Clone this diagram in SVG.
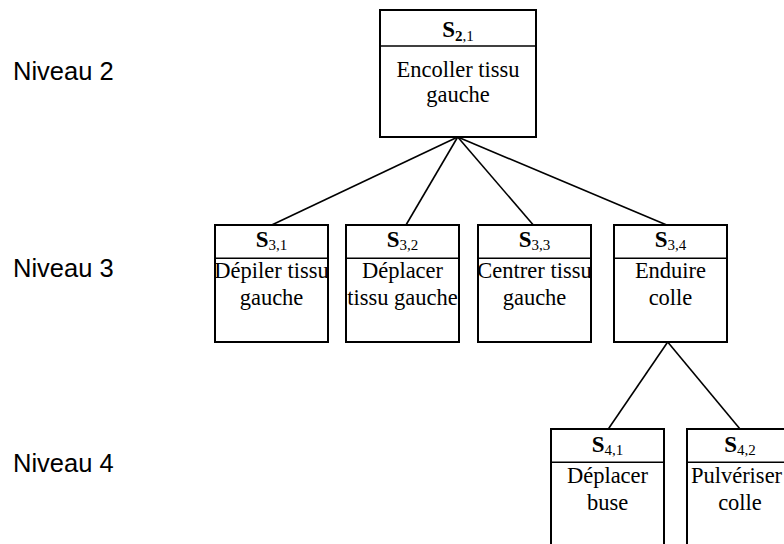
<svg xmlns="http://www.w3.org/2000/svg" width="784" height="544" viewBox="0 0 784 544">
<style>
.box{fill:#fff;stroke:#000;stroke-width:2}
.div{stroke:#000;stroke-width:1.5}
.lbl{font-family:"Liberation Serif","Times New Roman",serif;font-size:22.5px;fill:#000;text-anchor:middle}
.hdr{font-family:"Liberation Serif","Times New Roman",serif;font-size:23px;fill:#000;text-anchor:middle}
.hdr .s{font-weight:bold}
.sub{font-size:15px}
.lvl{font-family:"Liberation Sans",Arial,sans-serif;font-size:25.5px;fill:#000}
.con line{stroke:#000;stroke-width:1.6}
</style>
<rect width="784" height="544" fill="#fff"/>
<g id="levels">
<text class="lvl" x="13" y="80">Niveau 2</text>
<text class="lvl" x="13" y="277">Niveau 3</text>
<text class="lvl" x="13" y="472">Niveau 4</text>
</g>
<g id="connectors" class="con">
<line x1="457.7" y1="137" x2="271.7" y2="225"/>
<line x1="457.7" y1="137" x2="406" y2="225"/>
<line x1="457.7" y1="137" x2="533.3" y2="225"/>
<line x1="457.7" y1="137" x2="666.7" y2="225"/>
<line x1="667.7" y1="342" x2="608.3" y2="429"/>
<line x1="667.7" y1="342" x2="740" y2="429"/>
</g>
<g id="S21">
<rect class="box" x="380" y="10" width="156" height="127"/>
<line class="div" x1="380" y1="46" x2="536" y2="46"/>
<text class="hdr" x="458" y="37"><tspan class="s">S</tspan><tspan class="sub s" dy="4">2</tspan><tspan class="sub">,1</tspan></text>
<text class="lbl" x="458" y="77">Encoller tissu</text>
<text class="lbl" x="458" y="102">gauche</text>
</g>
<g id="S31">
<rect class="box" x="215" y="225" width="113" height="117"/>
<line class="div" x1="215" y1="258.3" x2="328" y2="258.3"/>
<text class="hdr" x="271.5" y="247"><tspan class="s">S</tspan><tspan class="sub" dy="3">3,1</tspan></text>
<text class="lbl" x="271.5" y="278">Dépiler tissu</text>
<text class="lbl" x="271.5" y="305">gauche</text>
</g>
<g id="S32">
<rect class="box" x="346" y="225" width="113" height="117"/>
<line class="div" x1="346" y1="258.3" x2="459" y2="258.3"/>
<text class="hdr" x="402.5" y="247"><tspan class="s">S</tspan><tspan class="sub" dy="3">3,2</tspan></text>
<text class="lbl" x="402.5" y="278">Déplacer</text>
<text class="lbl" x="402.5" y="305">tissu gauche</text>
</g>
<g id="S33">
<rect class="box" x="478" y="225" width="113" height="117"/>
<line class="div" x1="478" y1="258.3" x2="591" y2="258.3"/>
<text class="hdr" x="534.5" y="247"><tspan class="s">S</tspan><tspan class="sub" dy="3">3,3</tspan></text>
<text class="lbl" x="534.5" y="278">Centrer tissu</text>
<text class="lbl" x="534.5" y="305">gauche</text>
</g>
<g id="S34">
<rect class="box" x="614" y="225" width="113" height="117"/>
<line class="div" x1="614" y1="258.3" x2="727" y2="258.3"/>
<text class="hdr" x="670.5" y="247"><tspan class="s">S</tspan><tspan class="sub" dy="3">3,4</tspan></text>
<text class="lbl" x="670.5" y="278">Enduire</text>
<text class="lbl" x="670.5" y="305">colle</text>
</g>
<g id="S41">
<rect class="box" x="551" y="429" width="113" height="130"/>
<line class="div" x1="551" y1="462.3" x2="664" y2="462.3"/>
<text class="hdr" x="607.5" y="452"><tspan class="s">S</tspan><tspan class="sub" dy="3">4,1</tspan></text>
<text class="lbl" x="607.5" y="483">Déplacer</text>
<text class="lbl" x="607.5" y="510">buse</text>
</g>
<g id="S42">
<rect class="box" x="687" y="429" width="113" height="130"/>
<line class="div" x1="687" y1="462.3" x2="800" y2="462.3"/>
<text class="hdr" x="740" y="452"><tspan class="s">S</tspan><tspan class="sub" dy="3">4,2</tspan></text>
<text class="lbl" x="736.5" y="483">Pulvériser</text>
<text class="lbl" x="740" y="510">colle</text>
</g>
</svg>
